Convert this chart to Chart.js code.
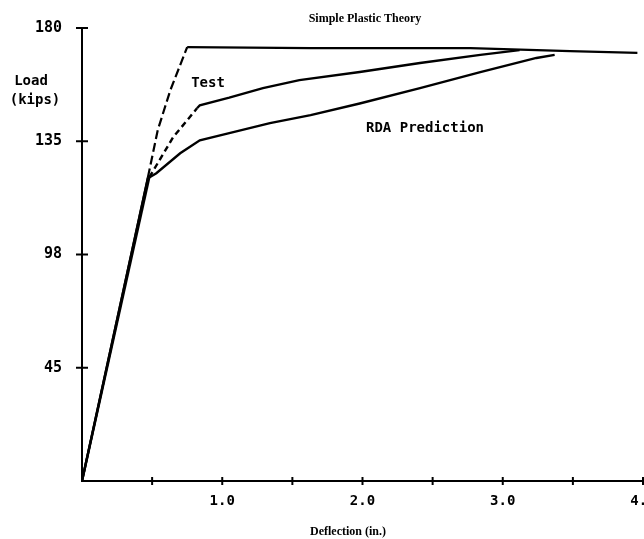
<!DOCTYPE html>
<html>
<head>
<meta charset="utf-8">
<script src="https://cdn.jsdelivr.net/npm/chart.js@4.4.1/dist/chart.umd.min.js"></script>
<style>
  html, body { margin: 0; padding: 0; background: #fff; overflow: hidden; }
  #wrap { width: 644px; height: 539px; }
</style>
</head>
<body>
<div id="wrap"><canvas id="loadChart" width="644" height="539"></canvas></div>
<script>
// values (deflection in., load kips)
const theoryX = [0, 0.47, 0.54, 0.63, 0.75, 1.63, 2.77, 3.48, 3.96];
const theoryY = [0, 120.7, 139.4, 155.3, 172.4, 172.0, 172.0, 170.8, 170.1];

const testX = [0, 0.48, 0.65, 0.82, 0.84, 1.05, 1.29, 1.55, 1.98, 2.41, 2.84, 3.12];
const testY = [0, 120.7, 136.6, 148.1, 149.3, 152.3, 156.1, 159.3, 162.5, 166.1, 169.3, 171.2];

const rdaX = [0, 0.47, 0.53, 0.70, 0.84, 1.05, 1.34, 1.63, 1.98, 2.41, 2.84, 3.24, 3.37];
const rdaY = [0, 120.3, 122.3, 130.2, 135.4, 138.2, 142.2, 145.4, 150.0, 156.1, 162.5, 168.1, 169.3];

const yTickValues = [45, 90, 135, 180];
const yTickLabels = ["45", "98", "135", "180"];
const xTickLabels = { 1: "1.0", 2: "2.0", 3: "3.0", 4: "4.0" };

const toPoints = (xs, ys) => xs.map((x, i) => ({ x, y: ys[i] }));

const MONO = '"DejaVu Sans Mono", monospace';
const SERIF = '"Liberation Serif", "DejaVu Serif", serif';

// tick marks cross the axis lines in the original
const crossTicks = {
  id: "crossTicks",
  afterDraw(chart) {
    const { ctx, scales } = chart;
    const xs = scales.x, ys = scales.y;
    ctx.save();
    ctx.strokeStyle = "#000";
    ctx.lineWidth = 2;
    xs.ticks.forEach((t) => {
      if (t.value === 0) return;
      const px = xs.getPixelForValue(t.value);
      ctx.beginPath();
      ctx.moveTo(px, ys.bottom - 4);
      ctx.lineTo(px, ys.bottom + 4);
      ctx.stroke();
    });
    yTickValues.forEach((v) => {
      const py = ys.getPixelForValue(v);
      ctx.beginPath();
      ctx.moveTo(xs.left - 6, py);
      ctx.lineTo(xs.left + 6, py);
      ctx.stroke();
    });
    ctx.restore();
  },
};

// free text placed on the plot like the original labels
const labels = {
  id: "labels",
  afterDraw(chart) {
    const { ctx } = chart;
    ctx.save();
    ctx.fillStyle = "#000";
    ctx.textAlign = "center";
    ctx.textBaseline = "middle";
    ctx.font = "bold 12px " + SERIF;
    ctx.fillText("Simple Plastic Theory", 365, 19);
    ctx.fillText("Deflection (in.)", 348, 532);
    ctx.font = "bold 14px " + MONO;
    ctx.fillText("Test", 208, 83);
    ctx.fillText("RDA Prediction", 425, 128);
    ctx.fillText("Load", 31, 81);
    ctx.fillText("(kips)", 35, 100);
    ctx.restore();
  },
};

new Chart(document.getElementById("loadChart"), {
  type: "line",
  data: {
    datasets: [
      {
        label: "Simple Plastic Theory",
        data: toPoints(theoryX, theoryY),
        borderColor: "#000",
        borderWidth: 2.2,
        pointRadius: 0,
        segment: {
          borderDash: (c) => (c.p0DataIndex >= 1 && c.p0DataIndex <= 3 ? [9, 4] : undefined),
        },
      },
      {
        label: "Test",
        data: toPoints(testX, testY),
        borderColor: "#000",
        borderWidth: 2.4,
        pointRadius: 0,
        segment: {
          borderDash: (c) => (c.p0DataIndex >= 1 && c.p0DataIndex <= 2 ? [6, 4] : undefined),
        },
      },
      {
        label: "RDA Prediction",
        data: toPoints(rdaX, rdaY),
        borderColor: "#000",
        borderWidth: 2.4,
        pointRadius: 0,
      },
    ],
  },
  options: {
    responsive: false,
    animation: false,
    layout: { padding: { left: 0, right: 1, top: 28, bottom: 0 } },
    plugins: {
      legend: { display: false },
      tooltip: { enabled: false },
    },
    scales: {
      x: {
        type: "linear",
        min: 0,
        max: 4,
        border: { color: "#000", width: 2 },
        grid: { display: false, drawTicks: false },
        ticks: {
          stepSize: 0.5,
          padding: 12,
          color: "#000",
          maxRotation: 0,
          autoSkip: false,
          font: { family: MONO, size: 14, weight: "bold" },
          callback: (v) => xTickLabels[v] || "",
        },
        afterFit: (s) => {
          s.height = 58;
          s.paddingLeft = 0;
          s.paddingRight = 0;
        },
      },
      y: {
        min: 0,
        max: 180,
        border: { color: "#000", width: 2 },
        grid: { display: false, drawTicks: false },
        ticks: {
          stepSize: 45,
          padding: 20,
          color: "#000",
          font: { family: MONO, size: 15, weight: "bold" },
          callback: (v) => {
            const i = yTickValues.indexOf(v);
            return i >= 0 ? yTickLabels[i] : "";
          },
        },
        afterFit: (s) => {
          s.width = 82;
          s.paddingTop = 0;
          s.paddingBottom = 0;
        },
      },
    },
  },
  plugins: [crossTicks, labels],
});
</script>
</body>
</html>
